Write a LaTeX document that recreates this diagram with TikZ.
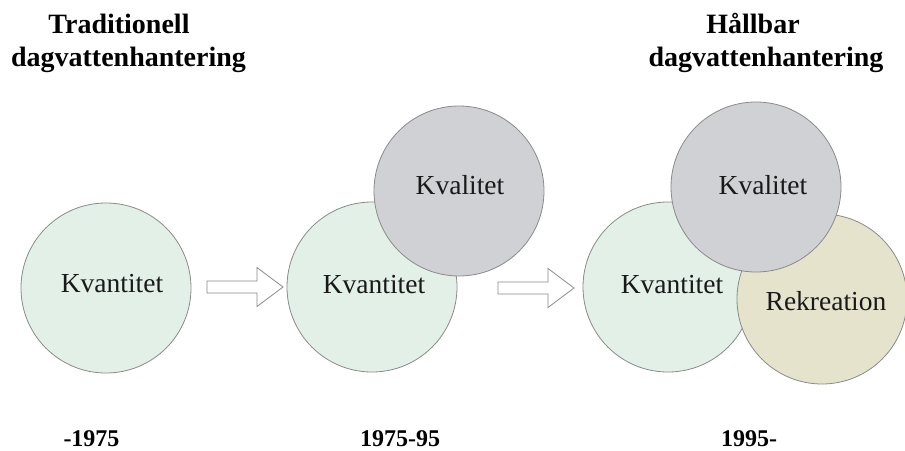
\documentclass[tikz,border=0pt]{standalone}
\usepackage{fontspec}
\setmainfont{Liberation Serif}
\definecolor{mint}{HTML}{E2F0E8}
\definecolor{grayc}{HTML}{D0D1D5}
\definecolor{beige}{HTML}{E6E3CD}
\definecolor{edge}{HTML}{8A8A8A}
\begin{document}
\begin{tikzpicture}[x=1pt,y=-1pt,
  circ/.style={circle,draw=edge,line width=0.8pt,minimum size=170pt,inner sep=0pt},
  lbl/.style={anchor=base,inner sep=0pt,font=\fontsize{27.5}{33}\selectfont,text=black!90},
  head/.style={anchor=base,inner sep=0pt,font=\fontsize{28}{33}\selectfont\bfseries},
  year/.style={anchor=base,inner sep=0pt,font=\fontsize{24}{28}\selectfont\bfseries},
  blockarrow/.style={draw=edge,fill=white,line width=0.8pt,line join=miter}]
\useasboundingbox (0,0) rectangle (905,450);
\fill[white] (0,0) rectangle (905,450);
% headers
\node[head] (h1a) at (119,33) {Traditionell};
\node[head] (h1b) at (128.5,66) {dagvattenhantering};
\node[head] (h2a) at (753,33) {Hållbar};
\node[head] (h2b) at (766,66) {dagvattenhantering};
% stage 1
\node[circ,fill=mint] (q1) at (106,288) {};
\node[lbl] (tq1) at (112,292) {Kvantitet};
% arrow 1
\coordinate (a1) at (207,287);
\draw[blockarrow] (a1) -- ++(0,-6) -- ++(50,0) -- ++(0,-13.5) -- ++(26,19.5) -- ++(-26,19.5) -- ++(0,-13.5) -- ++(-50,0) -- cycle;
% stage 2
\node[circ,fill=mint] (q2) at (372,287) {};
\node[circ,fill=grayc] (k2) at (459,191) {};
\node[lbl] (tq2) at (374,293) {Kvantitet};
\node[lbl] (tk2) at (460,194) {Kvalitet};
% arrow 2
\coordinate (a2) at (498,288);
\draw[blockarrow] (a2) -- ++(0,-6) -- ++(50,0) -- ++(0,-13.5) -- ++(26,19.5) -- ++(-26,19.5) -- ++(0,-13.5) -- ++(-50,0) -- cycle;
% stage 3
\node[circ,fill=mint] (q3) at (668,287) {};
\node[circ,fill=beige] (r3) at (822,299) {};
\node[circ,fill=grayc] (k3) at (756,187) {};
\node[lbl] (tq3) at (672,293) {Kvantitet};
\node[lbl] (tk3) at (763,194) {Kvalitet};
\node[lbl] (tr3) at (826,310) {Rekreation};
% years
\node[year] (y1) at (91.5,446) {-1975};
\node[year] (y2) at (400,446) {1975-95};
\node[year] (y3) at (749,446) {1995-};
\end{tikzpicture}
\end{document}
